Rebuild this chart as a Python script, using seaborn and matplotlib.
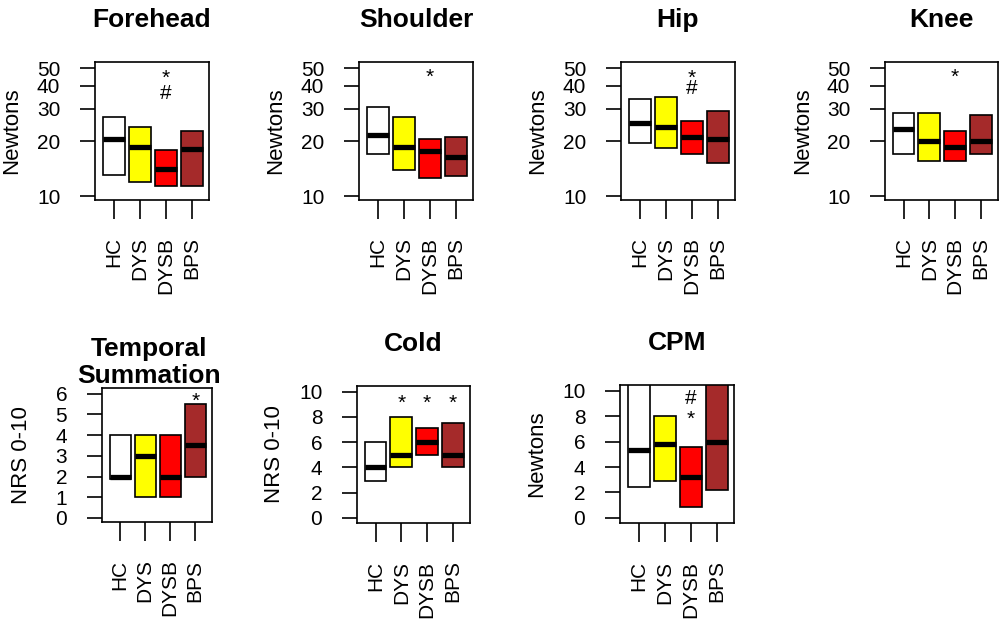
import pandas as pd
import matplotlib
matplotlib.use("Agg")
import matplotlib.pyplot as plt
from matplotlib.ticker import NullLocator
import seaborn as sns

sns.set_theme(style="ticks")
plt.rcParams["font.family"] = ["Liberation Sans", "DejaVu Sans"]
plt.rcParams.update({
    "axes.edgecolor": "black", "text.color": "black", "axes.labelcolor": "black",
    "xtick.color": "black", "ytick.color": "black", "axes.linewidth": 1.2,
})

groups = ["HC", "DYS", "DYSB", "BPS"]
colors = ["white", "yellow", "red", "brown"]

# low / median / high per group
forehead_low = [13.0, 11.9, 11.4, 11.4]
forehead_med = [20.5, 18.5, 14.0, 18.1]
forehead_high = [27.1, 23.9, 17.9, 22.6]

shoulder_low = [17.0, 13.9, 12.6, 12.9]
shoulder_med = [21.6, 18.6, 17.7, 16.3]
shoulder_high = [30.8, 27.1, 20.5, 21.1]

hip_low = [19.5, 18.4, 17.1, 15.1]
hip_med = [25.1, 23.8, 21.1, 20.5]
hip_high = [34.1, 35.0, 25.6, 29.3]

knee_low = [17.1, 15.6, 15.6, 17.1]
knee_med = [23.3, 20.1, 18.6, 20.1]
knee_high = [28.6, 28.6, 22.6, 27.8]

ts_low = [1.9, 1.0, 1.0, 2.0]
ts_med = [2.0, 3.0, 2.0, 3.5]
ts_high = [4.0, 4.0, 4.0, 5.5]

cold_low = [2.9, 4.0, 5.0, 4.0]
cold_med = [4.0, 5.0, 6.0, 5.0]
cold_high = [6.0, 8.0, 7.1, 7.5]

cpm_low = [2.4, 2.9, 0.85, 2.2]
cpm_med = [5.35, 5.8, 3.2, 6.0]
cpm_high = [12.0, 8.0, 5.6, 12.0]

# significance marks: (group index, y, symbol)
forehead_marks = [(2, 41.2, "*"), (2, 33.8, "#")]
shoulder_marks = [(2, 41.8, "*")]
hip_marks = [(2, 41.3, "*"), (2, 36.0, "#")]
knee_marks = [(2, 41.8, "*")]
ts_marks = [(3, 5.38, "*")]
cold_marks = [(1, 8.63, "*"), (2, 8.63, "*"), (3, 8.63, "*")]
cpm_marks = [(2, 8.95, "#"), (2, 7.3, "*")]

log_ticks = [10, 20, 30, 40, 50]

W, H = 1004, 621
fig = plt.figure(figsize=(W / 100, H / 100), dpi=100)


def add_axes(left, top, right, bottom):
    return fig.add_axes([left / W, 1 - bottom / H, (right - left) / W, (bottom - top) / H])


def panel(ax, title, ylabel, low, med, high, marks, log=False, ticks=None, ylim=None):
    rows = []
    for g, lo, md, hi in zip(groups, low, med, high):
        for v in (lo, lo, md, hi, hi):
            rows.append({"group": g, "value": v})
    df = pd.DataFrame(rows)
    sns.boxplot(data=df, x="group", y="value", hue="group", order=groups,
                palette=dict(zip(groups, colors)), saturation=1, width=0.84,
                linecolor="black", linewidth=1.2, showfliers=False, showcaps=False,
                log_scale=log, legend=False, ax=ax,
                medianprops={"color": "black", "linewidth": 3.8, "solid_capstyle": "butt"})
    ax.set_xlim(-0.72, 3.67)
    ax.set_ylim(*ylim)
    ax.set_yticks(ticks)
    ax.set_yticklabels([str(t) for t in ticks])
    ax.yaxis.set_minor_locator(NullLocator())
    ax.tick_params(axis="y", length=11, width=1.2, pad=14, labelsize=15)
    ax.tick_params(axis="x", length=14, width=1.2, pad=13, labelsize=15, labelrotation=90)
    ax.set_xlabel("")
    ax.set_ylabel(ylabel, fontsize=16)
    ax.yaxis.set_label_coords(-0.64, 0.5)
    for s in ax.spines.values():
        s.set_visible(True)
        s.set_color("black")
        s.set_linewidth(1.2)
    for gi, y, sym in marks:
        ax.text(gi, y, sym, ha="center", va="baseline", fontsize=15)
    if title is not None:
        ax.set_title(title, fontsize=19, fontweight="bold", pad=25)


ax1 = add_axes(95, 62, 209, 199.5)
panel(ax1, "Forehead", "Newtons", forehead_low, forehead_med, forehead_high,
      forehead_marks, log=True, ticks=log_ticks, ylim=(9.6, 54))
ax2 = add_axes(359, 62, 473, 199.5)
panel(ax2, "Shoulder", "Newtons", shoulder_low, shoulder_med, shoulder_high,
      shoulder_marks, log=True, ticks=log_ticks, ylim=(9.6, 54))
ax3 = add_axes(621, 62, 735, 199.5)
panel(ax3, "Hip", "Newtons", hip_low, hip_med, hip_high,
      hip_marks, log=True, ticks=log_ticks, ylim=(9.6, 54))
ax4 = add_axes(885, 62, 998, 199.5)
panel(ax4, "Knee", "Newtons", knee_low, knee_med, knee_high,
      knee_marks, log=True, ticks=log_ticks, ylim=(9.6, 54))

ax5 = add_axes(102, 388, 212, 522)
panel(ax5, None, "NRS 0-10", ts_low, ts_med, ts_high, ts_marks,
      ticks=list(range(0, 7)), ylim=(-0.2, 6.28))
ax5.text(0.43, 1.0, "Temporal\nSummation", transform=ax5.transAxes, ha="center",
         va="bottom", fontsize=19, fontweight="bold", linespacing=1.15)
ax6 = add_axes(357, 386, 470, 523)
panel(ax6, "Cold", "NRS 0-10", cold_low, cold_med, cold_high, cold_marks,
      ticks=list(range(0, 11, 2)), ylim=(-0.4, 10.45))
ax7 = add_axes(620, 385, 734, 523)
panel(ax7, "CPM", "Newtons", cpm_low, cpm_med, cpm_high, cpm_marks,
      ticks=list(range(0, 11, 2)), ylim=(-0.4, 10.45))

fig.savefig("out.png", dpi=100)
